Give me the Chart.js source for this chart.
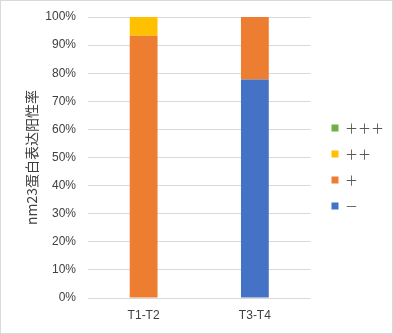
<!DOCTYPE html>
<html><head><meta charset="utf-8">
<script src="https://cdn.jsdelivr.net/npm/chart.js@4"></script>
<style>
html,body{margin:0;padding:0;background:#fff;}
#wrap{position:relative;width:393px;height:334px;box-sizing:border-box;border:1px solid #d9d9d9;}
canvas{display:block;}
</style></head>
<body><div id="wrap"><canvas id="c" width="391" height="332"></canvas></div>
<script>
const categories = ['T1-T2', 'T3-T4'];
const seriesNames = ['－', '＋', '＋＋', '＋＋＋'];
const minusVals = [0, 77.8];
const plusVals = [93.3, 22.2];
const plus2Vals = [6.7, 0];
const plus3Vals = [0, 0];
const yTicks = [0, 10, 20, 30, 40, 50, 60, 70, 80, 90, 100];
const colors = ['#4472C4', '#ED7D31', '#FFC000', '#70AD47'];
const values = [minusVals, plusVals, plus2Vals, plus3Vals];

const shiftLegend = {
  id: 'shiftLegend',
  afterUpdate(chart) { const l = chart.legend; l.left += 8; l.right += 8; l.top -= 8; l.bottom -= 8; }
};

const tickFont = {family: '"Liberation Sans", Arial, sans-serif', size: 12};
new Chart(document.getElementById('c'), {
  type: 'bar',
  data: {
    labels: categories,
    datasets: seriesNames.map((n, i) => ({
      label: n, data: values[i], backgroundColor: colors[i],
      borderWidth: 0, categoryPercentage: 1, barPercentage: 0.25
    }))
  },
  plugins: [shiftLegend],
  options: {
    responsive: false, animation: false,
    layout: {padding: {left: 20, right: 6, top: 16, bottom: 0}},
    plugins: {
      tooltip: {enabled: false},
      legend: {
        position: 'right', reverse: true,
        labels: {boxWidth: 7, boxHeight: 7, padding: 13, color: '#595959',
          font: {family: '"Noto Sans CJK SC", sans-serif', size: 13}}
      }
    },
    scales: {
      x: {stacked: true, grid: {display: false, drawTicks: false}, border: {display: false},
        afterFit: s => { s.height = 35; s.paddingLeft = 0; s.paddingRight = 0; },
        ticks: {color: '#404040', font: tickFont, padding: 10}},
      y: {stacked: true, min: 0, max: 100,
        afterFit: s => { s.width = 67; s.paddingTop = 0; s.paddingBottom = 0; },
        afterBuildTicks: s => { s.ticks = yTicks.map(v => ({value: v})); },
        grid: {color: '#d9d9d9', drawTicks: false}, border: {display: false},
        ticks: {color: '#404040', font: tickFont, padding: 12, callback: v => v + '%'},
        title: {display: true, text: 'nm23蛋白表达阳性率', color: '#404040',
          font: {family: '"Noto Sans CJK SC", sans-serif', size: 14}, padding: 2}
      }
    }
  }
});
</script></body></html>
